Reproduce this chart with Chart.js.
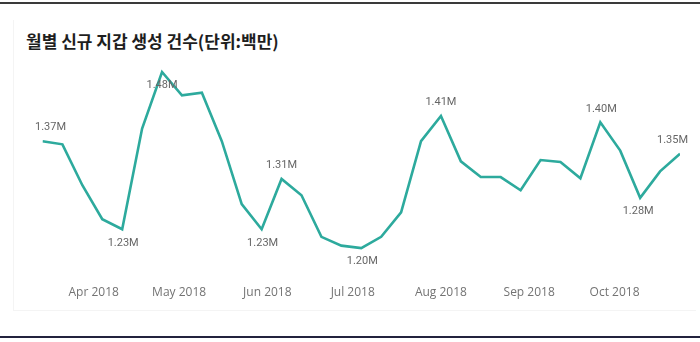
<!DOCTYPE html>
<html>
<head>
<meta charset="utf-8">
<script src="https://cdn.jsdelivr.net/npm/chart.js@4.4.1/dist/chart.umd.min.js"></script>
<style>
  html, body { margin: 0; padding: 0; background: #ffffff; }
  #wrap { position: relative; width: 700px; height: 342px; overflow: hidden; }
  #rule-top { position: absolute; left: 0; top: 2px; width: 700px; height: 2px; background: #3a3a3a; }
  #rule-bottom { position: absolute; left: 0; top: 336px; width: 700px; height: 2px; background: #23233d; }
  #frame { position: absolute; left: 13px; top: 20px; width: 682px; height: 290px;
           border-left: 1px solid #f4f4f4; border-bottom: 1px solid #f4f4f4; }
  #title { position: absolute; left: 26px; top: 30px; white-space: nowrap;
           font: 700 17px/21px "Noto Sans CJK KR", sans-serif; color: #1e1e1e; }
  #chart { position: absolute; left: 0; top: 0; }
</style>
</head>
<body>
<div id="wrap">
  <div id="rule-top"></div>
  <div id="frame"></div>
  <div id="title">월별 신규 지갑 생성 건수(단위:백만)</div>
  <canvas id="chart" width="700" height="342"></canvas>
  <div id="rule-bottom"></div>
</div>
<script>
// Weekly new-wallet counts, in millions
const weekStarts = [
  '2018-03-14', '2018-03-21', '2018-03-28', '2018-04-04', '2018-04-11', '2018-04-18',
  '2018-04-25', '2018-05-02', '2018-05-09', '2018-05-16', '2018-05-23', '2018-05-30',
  '2018-06-06', '2018-06-13', '2018-06-20', '2018-06-27', '2018-07-04', '2018-07-11',
  '2018-07-18', '2018-07-25', '2018-08-01', '2018-08-08', '2018-08-15', '2018-08-22',
  '2018-08-29', '2018-09-05', '2018-09-12', '2018-09-19', '2018-09-26', '2018-10-03',
  '2018-10-10', '2018-10-17', '2018-10-24'
];
const walletsCreated = [
  1.37, 1.365, 1.30, 1.246, 1.23, 1.39,
  1.48, 1.443, 1.447, 1.37, 1.27, 1.23,
  1.31, 1.284, 1.218, 1.204, 1.20, 1.218,
  1.257, 1.37, 1.41, 1.338, 1.313, 1.313,
  1.292, 1.34, 1.337, 1.311, 1.40, 1.355,
  1.28, 1.322, 1.35
];
// Month ticks on the time axis
const monthTickDates = ['2018-04-01', '2018-05-01', '2018-06-01', '2018-07-01', '2018-08-01', '2018-09-01', '2018-10-01'];
const monthTickLabels = ['Apr 2018', 'May 2018', 'Jun 2018', 'Jul 2018', 'Aug 2018', 'Sep 2018', 'Oct 2018'];
// Weeks that carry a value label
const labelledWeeks = [0, 4, 6, 11, 12, 16, 20, 28, 30, 32];

// Label placement: side (-1 above, 1 below) and horizontal nudge near the edges
const labelPlacement = {
  0: { side: -1, dx: 8 }, 4: { side: 1, dx: 1 }, 6: { side: 1, dx: 0 },
  11: { side: 1, dx: 1 }, 12: { side: -1, dx: 0 }, 16: { side: 1, dx: 1 },
  20: { side: -1, dx: 0 }, 28: { side: -1, dx: 1 }, 30: { side: 1, dx: -2 },
  32: { side: -1, dx: -7.5 }
};

const DAY = 86400000;
const origin = Date.parse(weekStarts[0]);
const dayOf = s => (Date.parse(s) - origin) / DAY;

const points = weekStarts.map((d, i) => ({ x: dayOf(d), y: walletsCreated[i] }));

const valueLabels = {
  id: 'valueLabels',
  afterDatasetsDraw(chart) {
    const meta = chart.getDatasetMeta(0);
    const ctx = chart.ctx;
    ctx.save();
    ctx.font = '11px Roboto, "Open Sans", sans-serif';
    ctx.fillStyle = '#666666';
    ctx.textAlign = 'center';
    ctx.textBaseline = 'middle';
    labelledWeeks.forEach(i => {
      const el = meta.data[i];
      const p = labelPlacement[i];
      const text = walletsCreated[i].toFixed(2) + 'M';
      ctx.fillText(text, el.x + p.dx, el.y + p.side * 13.5);
    });
    ctx.restore();
  }
};

new Chart(document.getElementById('chart'), {
  type: 'line',
  data: {
    datasets: [{
      data: points,
      borderColor: '#2daa9d',
      borderWidth: 2.6,
      pointRadius: 0,
      pointHoverRadius: 0,
      tension: 0,
      fill: false
    }]
  },
  options: {
    responsive: false,
    animation: false,
    devicePixelRatio: 1,
    layout: { padding: { left: 42.5, right: 20, top: 59.4, bottom: 36 } },
    plugins: {
      legend: { display: false },
      tooltip: { enabled: false },
      title: { display: false }
    },
    scales: {
      x: {
        type: 'linear',
        min: 0,
        max: dayOf(weekStarts[weekStarts.length - 1]),
        grid: { display: false, drawTicks: false },
        border: { display: false },
        afterBuildTicks: axis => {
          axis.ticks = monthTickDates.map(d => ({ value: dayOf(d) }));
        },
        ticks: {
          autoSkip: false,
          maxRotation: 0,
          padding: 6,
          color: '#737373',
          font: { family: '"Open Sans", sans-serif', size: 12 },
          callback: (value, index) => monthTickLabels[index]
        }
      },
      y: {
        display: false,
        min: 1.15,
        max: 1.50
      }
    }
  },
  plugins: [valueLabels]
});
</script>
</body>
</html>
